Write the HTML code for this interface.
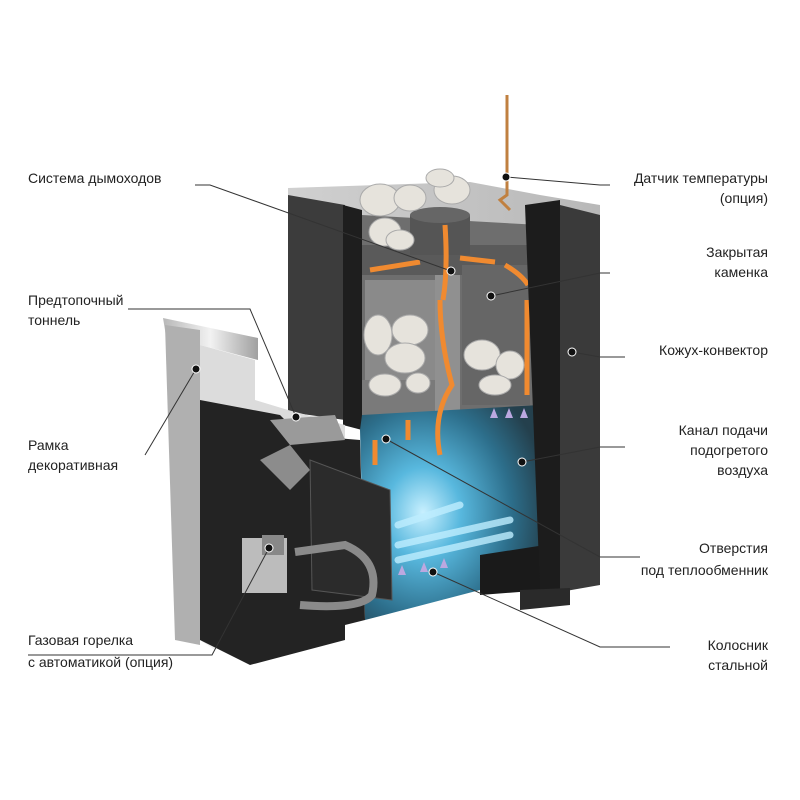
<!DOCTYPE html>
<html><head><meta charset="utf-8"><style>
body{margin:0;background:#fff;}
svg{display:block}
text{font-family:"Liberation Sans",sans-serif;font-size:14px;fill:#222}
</style></head><body>
<svg width="800" height="800" viewBox="0 0 800 800">
<defs>
<radialGradient id="blue" cx="0.35" cy="0.5" r="0.7">
<stop offset="0" stop-color="#c8f0ff"/><stop offset="0.3" stop-color="#58b8de"/><stop offset="0.7" stop-color="#2d6f8c"/><stop offset="1" stop-color="#24404d"/>
</radialGradient>
<linearGradient id="silver" x1="0" x2="1"><stop offset="0" stop-color="#b8b8b8"/><stop offset="0.5" stop-color="#f2f2f2"/><stop offset="1" stop-color="#a0a0a0"/></linearGradient>
<linearGradient id="top" x1="0" x2="1"><stop offset="0" stop-color="#d0d0d0"/><stop offset="1" stop-color="#b8b8b8"/></linearGradient>
</defs>
<polygon points="288,188 470,182 540,195 600,205 600,245 288,215" fill="url(#top)"/>
<polygon points="288,195 345,205 345,420 288,412" fill="#3c3c3c"/>
<polygon points="343,205 362,210 362,430 343,425" fill="#1e1e1e"/>
<polygon points="362,215 540,225 540,420 362,430" fill="#6e6e6e"/>
<rect x="362" y="245" width="178" height="30" fill="#5a5a5a"/>
<rect x="365" y="280" width="70" height="130" fill="#8a8a8a"/>
<rect x="362" y="380" width="75" height="35" fill="#7a7a7a"/>
<rect x="462" y="265" width="68" height="140" fill="#666"/>
<rect x="435" y="275" width="25" height="150" fill="#909090"/>
<rect x="410" y="215" width="60" height="40" fill="#555"/>
<ellipse cx="440" cy="215" rx="30" ry="8" fill="#666"/>
<g fill="#e6e3dc" stroke="#aaa" stroke-width="1">
<ellipse cx="380" cy="200" rx="20" ry="16"/><ellipse cx="410" cy="198" rx="16" ry="13"/><ellipse cx="452" cy="190" rx="18" ry="14"/><ellipse cx="440" cy="178" rx="14" ry="9"/>
<ellipse cx="385" cy="232" rx="16" ry="14"/><ellipse cx="400" cy="240" rx="14" ry="10"/>
<ellipse cx="378" cy="335" rx="14" ry="20"/><ellipse cx="410" cy="330" rx="18" ry="15"/><ellipse cx="405" cy="358" rx="20" ry="15"/><ellipse cx="385" cy="385" rx="16" ry="11"/><ellipse cx="418" cy="383" rx="12" ry="10"/>
<ellipse cx="482" cy="355" rx="18" ry="15"/><ellipse cx="510" cy="365" rx="14" ry="14"/><ellipse cx="495" cy="385" rx="16" ry="10"/>
</g>
<polygon points="362,415 540,405 540,580 480,590 365,620 360,430" fill="url(#blue)"/>
<g stroke="#bfeeff" stroke-width="7" opacity="0.8" stroke-linecap="round">
<line x1="398" y1="525" x2="460" y2="505"/><line x1="398" y1="545" x2="510" y2="520"/><line x1="398" y1="560" x2="510" y2="535"/>
</g>
<g fill="#bba8e0"><polygon points="398,575 402,565 406,575"/><polygon points="420,572 424,562 428,572"/><polygon points="440,568 444,558 448,568"/>
<polygon points="490,418 494,408 498,418"/><polygon points="505,418 509,408 513,418"/><polygon points="520,418 524,408 528,418"/></g>
<polygon points="480,555 545,545 545,590 480,595" fill="#1a1a1a"/>
<g stroke="#f08a30" stroke-width="5" fill="none">
<path d="M440,455 Q432,415 452,385 Q440,340 440,300"/><path d="M443,300 Q448,270 445,225"/>
<path d="M370,270 L420,262"/><path d="M460,258 L495,262"/><path d="M505,265 Q522,275 528,285"/>
<path d="M375,465 L375,440"/><path d="M408,440 L408,420"/>
<path d="M527,395 L527,300"/>
</g>
<line x1="543" y1="310" x2="543" y2="545" stroke="#c0264a" stroke-width="3"/>
<polygon points="525,205 560,200 560,590 548,595 540,590" fill="#1c1c1c"/>
<polygon points="560,205 600,215 600,585 560,592" fill="#3a3a3a"/>
<polygon points="520,590 570,588 570,605 520,610" fill="#2a2a2a"/>
<polygon points="163,318 258,338 258,360 200,345 200,640 215,650 165,330" fill="url(#silver)"/>
<polygon points="165,325 200,330 200,645 175,640" fill="#b0b0b0"/>
<polygon points="200,345 255,360 255,400 288,410 345,425 345,440 200,420" fill="#dcdcdc"/>
<polygon points="200,400 280,415 300,435 360,440 365,620 345,625 345,640 250,665 200,640" fill="#232323"/>
<polygon points="270,420 335,415 345,440 290,445" fill="#9a9a9a"/>
<polygon points="260,460 290,445 310,470 290,490" fill="#8c8c8c"/>
<polygon points="310,460 390,490 392,600 312,590" fill="#2b2b2b" stroke="#555"/>
<rect x="242" y="538" width="45" height="55" fill="#bcbcbc"/>
<rect x="262" y="535" width="22" height="20" fill="#888"/>
<path d="M295,552 L345,545 Q380,560 372,595 Q360,610 300,605" stroke="#8a8a8a" stroke-width="8" fill="none"/>
<path d="M507,95 L507,195 L500,200 L510,210" stroke="#c08040" stroke-width="3" fill="none"/>
<g stroke="#333" stroke-width="1" fill="none">
<polyline points="195,185 210,185 451,271"/>
<polyline points="506,177 600,185 610,185"/>
<polyline points="491,296 600,273 610,273"/>
<polyline points="572,352 600,357 625,357"/>
<polyline points="522,462 600,447 625,447"/>
<polyline points="386,439 600,557 640,557"/>
<polyline points="433,572 600,647 670,647"/>
<polyline points="128,309 250,309 296,417"/>
<polyline points="145,455 196,369"/>
<polyline points="28,655 212,655 269,548"/>
</g>
<g fill="#111" stroke="#fff" stroke-width="1">
<circle cx="451" cy="271" r="4"/><circle cx="506" cy="177" r="4"/><circle cx="491" cy="296" r="4"/><circle cx="572" cy="352" r="4"/><circle cx="522" cy="462" r="4"/><circle cx="386" cy="439" r="4"/><circle cx="433" cy="572" r="4"/><circle cx="296" cy="417" r="4"/><circle cx="196" cy="369" r="4"/><circle cx="269" cy="548" r="4"/>
</g>
<text x="28" y="183">Система дымоходов</text>
<text x="28" y="305">Предтопочный</text><text x="28" y="325">тоннель</text>
<text x="28" y="450">Рамка</text><text x="28" y="470">декоративная</text>
<text x="28" y="645">Газовая горелка</text><text x="28" y="667">с автоматикой (опция)</text>
<g text-anchor="end">
<text x="768" y="183">Датчик температуры</text><text x="768" y="203">(опция)</text>
<text x="768" y="257">Закрытая</text><text x="768" y="277">каменка</text>
<text x="768" y="355">Кожух-конвектор</text>
<text x="768" y="435">Канал подачи</text><text x="768" y="455">подогретого</text><text x="768" y="475">воздуха</text>
<text x="768" y="553">Отверстия</text><text x="768" y="575">под теплообменник</text>
<text x="768" y="650">Колосник</text><text x="768" y="670">стальной</text>
</g>
</svg>
</body></html>
